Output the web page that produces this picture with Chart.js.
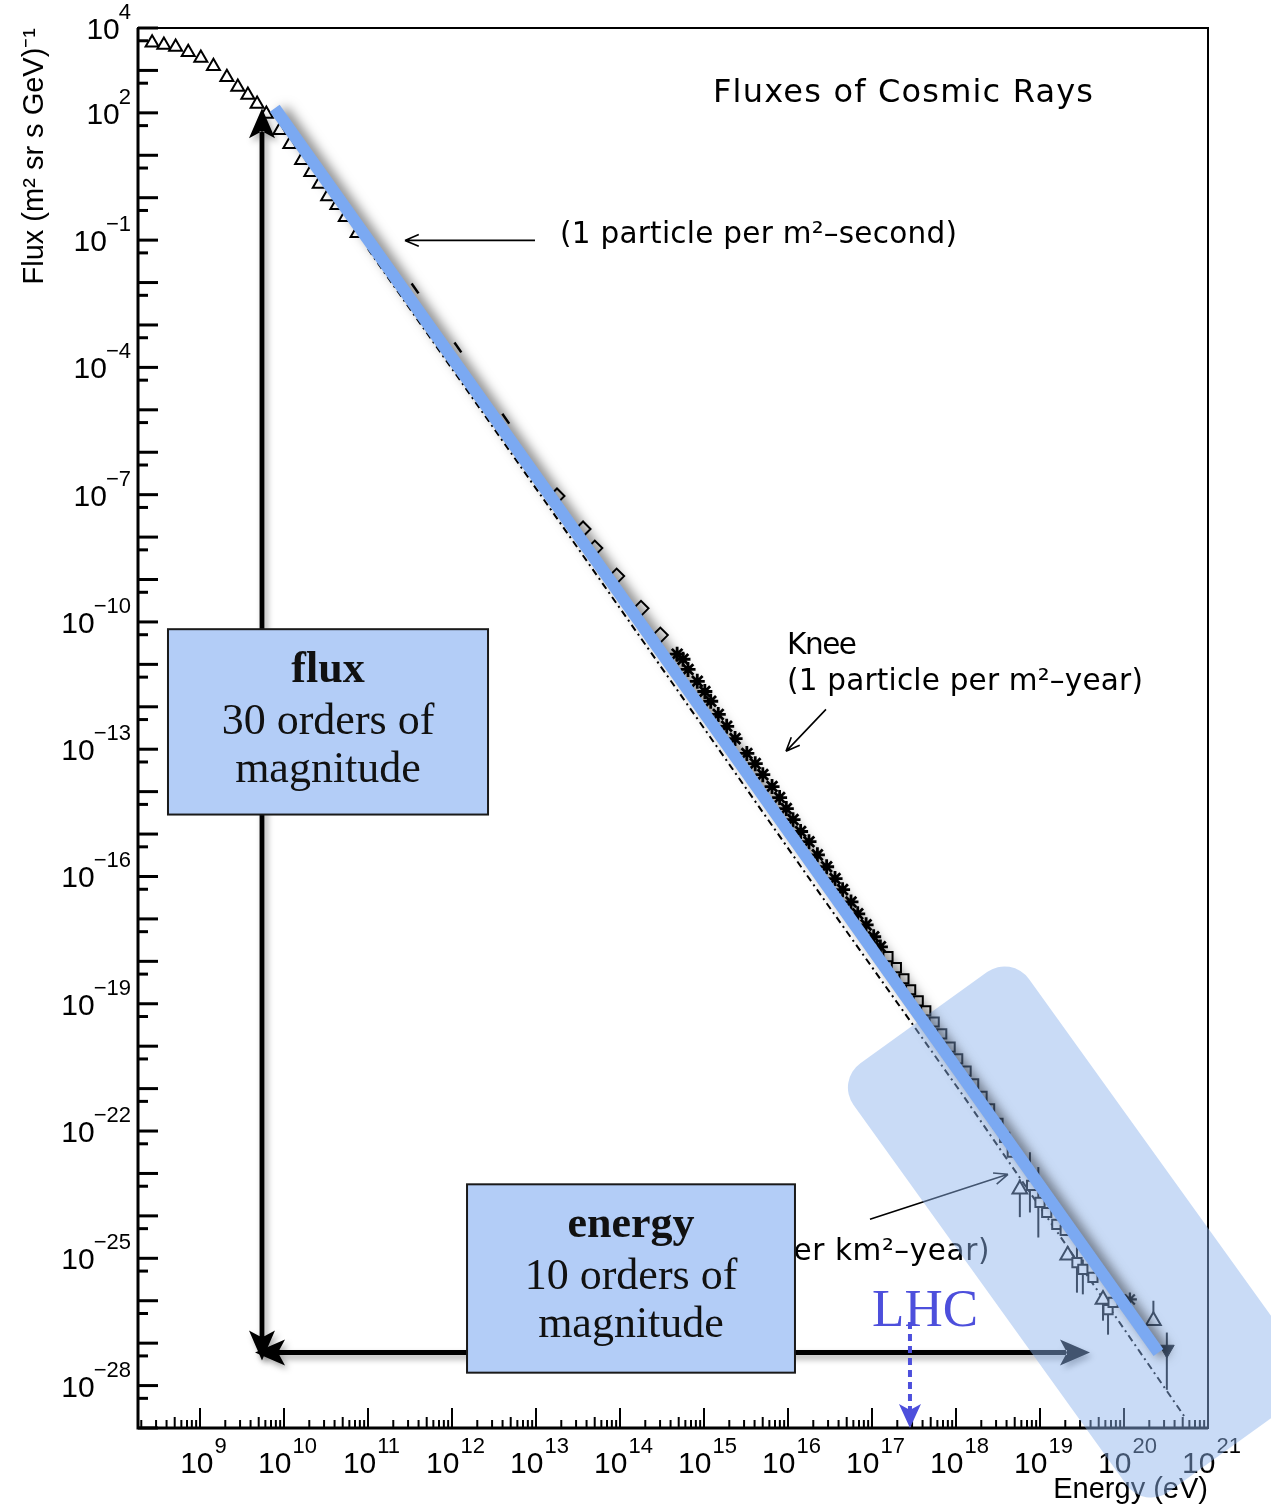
<!DOCTYPE html>
<html>
<head>
<meta charset="utf-8">
<script src="https://cdn.jsdelivr.net/npm/chart.js@4.4.1/dist/chart.umd.min.js"></script>
<style>
  html, body { margin: 0; padding: 0; background: #fff; }
</style>
</head>
<body>
<canvas id="fluxChart" width="1271" height="1508"></canvas>
<script>
// all values are log10: energy in eV, flux in (m^2 sr s GeV)^-1
var lowTriE = [8.43, 8.57, 8.71, 8.86, 9.01, 9.16, 9.32, 9.45, 9.57, 9.68, 9.79, 9.95, 10.07, 10.21, 10.32, 10.42, 10.52, 10.63, 10.73, 10.87];
var lowTriF = [3.65, 3.60, 3.55, 3.43, 3.29, 3.10, 2.84, 2.61, 2.42, 2.21, 1.97, 1.59, 1.26, 0.88, 0.60, 0.32, 0.03, -0.18, -0.46, -0.84];
var dashE = [11.56, 12.07, 12.64];
var dashF = [-2.14, -3.53, -5.21];
var diamondE = [13.25, 13.56, 13.70, 13.96, 14.25, 14.48];
var diamondF = [-7.03, -7.81, -8.26, -8.92, -9.68, -10.31];
var starE = [14.68, 14.75, 14.81, 14.92, 15.01, 15.08, 15.17, 15.27, 15.37, 15.51, 15.61, 15.70, 15.81, 15.90, 15.98, 16.06, 16.15, 16.25, 16.35, 16.46, 16.56, 16.65, 16.75, 16.83, 16.93, 17.02, 17.10];
var starF = [-10.76, -10.88, -11.12, -11.40, -11.64, -11.87, -12.18, -12.46, -12.75, -13.10, -13.34, -13.60, -13.88, -14.14, -14.40, -14.66, -14.94, -15.18, -15.49, -15.77, -16.05, -16.31, -16.60, -16.88, -17.14, -17.42, -17.66];
var squareE = [17.19, 17.29, 17.38, 17.46, 17.55, 17.64, 17.74, 17.83, 17.93, 18.02, 18.12, 18.21, 18.31, 18.40, 18.50, 18.58, 18.67, 18.90, 19.00, 19.08, 19.20, 19.30, 19.44, 19.51, 19.63, 19.81, 19.87];
var squareF = [-17.89, -18.15, -18.41, -18.67, -18.93, -19.17, -19.43, -19.71, -20.02, -20.30, -20.59, -20.89, -21.18, -21.48, -21.82, -22.15, -22.50, -23.28, -23.68, -23.92, -24.20, -24.34, -25.10, -25.26, -25.45, -26.21, -26.04];
var heTriE = [18.76, 19.33, 19.75, 20.35];
var heTriF = [-23.37, -24.93, -25.97, -26.47];
var heStarE = [19.95, 20.07];
var heStarF = [-25.97, -25.97];
var limitE = [20.51];
var limitF = [-27.15];
var errE = [18.76, 18.88, 18.98, 19.44, 19.51, 19.75, 19.81, 20.35, 20.51];
var errLo = [-24.03, -23.92, -24.51, -25.81, -25.85, -26.47, -26.80, -26.51, -28.10];
var errHi = [-23.14, -22.50, -22.85, -24.74, -25.03, -25.81, -26.04, -26.00, -26.75];
var fitE = [11.00, 13.13, 16.42, 18.08, 20.73];
var fitF = [-1.21, -7.22, -16.52, -21.15, -28.76];
var bandE = [9.89, 20.41];
var bandF = [2.11, -27.22];
var xTickExps = [9, 10, 11, 12, 13, 14, 15, 16, 17, 18, 19, 20, 21];
var yTickExps = [4, 2, -1, -4, -7, -10, -13, -16, -19, -22, -25, -28];

function pts(es, fs) {
  return es.map(function (e, i) { return { x: Math.pow(10, e), y: Math.pow(10, fs[i]) }; });
}

function P(chart, le, lf) {
  return {
    x: chart.scales.x.getPixelForValue(Math.pow(10, le)),
    y: chart.scales.y.getPixelForValue(Math.pow(10, lf))
  };
}

var SANS = '"Liberation Sans", Arial, sans-serif';
var NOTE = '"DejaVu Sans", sans-serif';
var SERIF = '"Liberation Serif", "Times New Roman", serif';

function supLabel(e) {
  return e < 0 ? '\u2212' + (-e) : String(e);
}

function drawFrame(chart) {
  var ctx = chart.ctx, a = chart.chartArea, xs = chart.scales.x, ys = chart.scales.y;
  ctx.save();
  ctx.strokeStyle = '#000';
  ctx.lineWidth = 2;
  ctx.strokeRect(a.left, a.top, a.right - a.left, a.bottom - a.top);
  ctx.lineWidth = 3;
  ctx.beginPath();
  ctx.moveTo(a.left, a.top); ctx.lineTo(a.left, a.bottom); ctx.lineTo(a.right, a.bottom);
  ctx.stroke();

  // x ticks, drawn inward
  ctx.lineWidth = 2;
  for (var d = 8; d <= 21; d++) {
    for (var m = 1; m < 10; m++) {
      var v = m * Math.pow(10, d);
      if (v < xs.min || v > xs.max * 1.001) continue;
      var px = xs.getPixelForValue(v);
      var len = m === 1 ? 20 : (m === 5 ? 11 : 8);
      ctx.beginPath(); ctx.moveTo(px, a.bottom); ctx.lineTo(px, a.bottom - len); ctx.stroke();
    }
  }
  // y ticks
  ctx.lineWidth = 3;
  for (var k = -29; k <= 4; k++) {
    var y1 = ys.getPixelForValue(Math.pow(10, k));
    ctx.beginPath(); ctx.moveTo(a.left, y1); ctx.lineTo(a.left + 20, y1); ctx.stroke();
    var y2 = ys.getPixelForValue(5 * Math.pow(10, k - 1));
    if (y2 > a.bottom) continue;
    ctx.beginPath(); ctx.moveTo(a.left, y2); ctx.lineTo(a.left + 10, y2); ctx.stroke();
  }

  // tick labels 10^n
  ctx.fillStyle = '#000';
  ctx.textBaseline = 'alphabetic';
  xTickExps.forEach(function (e) {
    var px = xs.getPixelForValue(Math.pow(10, e));
    var s = supLabel(e);
    ctx.font = '30px ' + SANS; var w10 = ctx.measureText('10').width;
    ctx.font = '22px ' + SANS; var ws = ctx.measureText(s).width;
    var x0 = px + 3 - (w10 + ws) / 2;
    ctx.textAlign = 'left';
    ctx.font = '30px ' + SANS; ctx.fillText('10', x0, a.bottom + 45);
    ctx.font = '22px ' + SANS; ctx.fillText(s, x0 + w10 + 1, a.bottom + 25);
  });
  yTickExps.forEach(function (e) {
    var py = ys.getPixelForValue(Math.pow(10, e));
    var s = supLabel(e);
    ctx.font = '22px ' + SANS; var ws = ctx.measureText(s).width;
    var xr = a.left - 7;
    ctx.textAlign = 'left'; ctx.fillText(s, xr - ws, py - 9);
    ctx.font = '30px ' + SANS; ctx.textAlign = 'right'; ctx.fillText('10', xr - ws + 1, py + 11);
  });
  ctx.restore();
}

function drawErrorBars(chart) {
  var ctx = chart.ctx;
  ctx.save();
  ctx.strokeStyle = '#000'; ctx.lineWidth = 2;
  errE.forEach(function (e, i) {
    var lo = P(chart, e, errLo[i]), hi = P(chart, e, errHi[i]);
    ctx.beginPath(); ctx.moveTo(lo.x, lo.y); ctx.lineTo(hi.x, hi.y); ctx.stroke();
  });
  ctx.restore();
}

// stretch letter spacing so that `part` (a piece of `text`) spans `width`
function fitText(ctx, text, x, y, width, size, family, align, part) {
  part = part || text;
  ctx.font = size + 'px ' + family;
  ctx.letterSpacing = '0px';
  var w = ctx.measureText(part).width;
  var ls = (width - w) / (part.length - 1);
  ctx.letterSpacing = ls.toFixed(2) + 'px';
  ctx.textAlign = align || 'left';
  ctx.fillText(text, x, y);
  ctx.letterSpacing = '0px';
}

function pointer(ctx, a, b) {
  var ang = Math.atan2(b.y - a.y, b.x - a.x);
  ctx.beginPath(); ctx.moveTo(a.x, a.y); ctx.lineTo(b.x, b.y);
  [0.4, -0.4].forEach(function (d) {
    ctx.moveTo(b.x, b.y);
    ctx.lineTo(b.x - 15 * Math.cos(ang + d), b.y - 15 * Math.sin(ang + d));
  });
  ctx.stroke();
}

function drawNotes(chart) {
  var ctx = chart.ctx;
  ctx.save();
  ctx.fillStyle = '#000'; ctx.strokeStyle = '#000'; ctx.lineWidth = 1.6;
  ctx.textBaseline = 'alphabetic';
  var p = P(chart, 15.107, 2.252);
  fitText(ctx, 'Fluxes of Cosmic Rays', p.x, p.y, 380, 32, NOTE);
  p = P(chart, 13.286, -1.078);
  fitText(ctx, '(1 particle per m\u00b2\u2013second)', p.x, p.y, 397, 29.5, NOTE);
  pointer(ctx, P(chart, 12.988, -1.007), P(chart, 11.44, -1.007));
  p = P(chart, 15.988, -10.761);
  fitText(ctx, 'Knee', p.x, p.y, 70, 29.5, NOTE);
  p = P(chart, 15.988, -11.611);
  fitText(ctx, '(1 particle per m\u00b2\u2013year)', p.x, p.y, 356, 29.5, NOTE);
  pointer(ctx, P(chart, 16.452, -12.06), P(chart, 15.976, -13.05));
  p = P(chart, 18.405, -25.05);
  fitText(ctx, '(1 particle per km\u00b2\u2013year)', p.x, p.y, 196, 29.5, NOTE, 'right', 'er km\u00b2\u2013year)');
  pointer(ctx, P(chart, 16.976, -24.08), P(chart, 18.619, -23.02));
  ctx.restore();
}

function blockArrow(ctx, a, b, headStart, headEnd) {
  var ang = Math.atan2(b.y - a.y, b.x - a.x), len = Math.hypot(b.x - a.x, b.y - a.y);
  var hl = 30, hw = 13, notch = 7, sw = 2.4;
  ctx.save();
  ctx.translate(a.x, a.y); ctx.rotate(ang);
  ctx.beginPath();
  var s0 = headStart ? hl - notch : 0, s1 = headEnd ? len - hl + notch : len;
  ctx.rect(s0, -sw, s1 - s0, 2 * sw);
  if (headStart) {
    ctx.moveTo(0, 0); ctx.lineTo(hl, -hw); ctx.lineTo(hl - notch, 0); ctx.lineTo(hl, hw); ctx.closePath();
  }
  if (headEnd) {
    ctx.moveTo(len, 0); ctx.lineTo(len - hl, -hw); ctx.lineTo(len - hl + notch, 0); ctx.lineTo(len - hl, hw); ctx.closePath();
  }
  ctx.fill();
  ctx.restore();
}

function drawBlackArrows(chart) {
  var ctx = chart.ctx;
  ctx.save();
  ctx.fillStyle = '#000';
  ctx.shadowColor = 'rgba(0,0,0,0.35)'; ctx.shadowBlur = 6; ctx.shadowOffsetX = 3; ctx.shadowOffsetY = 4;
  blockArrow(ctx, P(chart, 9.738, -27.41), P(chart, 9.738, 2.11), true, true);
  blockArrow(ctx, P(chart, 9.655, -27.22), P(chart, 19.595, -27.22), true, true);
  ctx.restore();
}

function roundRectPath(ctx, x, y, w, h, r) {
  ctx.beginPath();
  ctx.moveTo(x + r, y);
  ctx.arcTo(x + w, y, x + w, y + h, r);
  ctx.arcTo(x + w, y + h, x, y + h, r);
  ctx.arcTo(x, y + h, x, y, r);
  ctx.arcTo(x, y, x + w, y, r);
  ctx.closePath();
}

function drawBand(chart) {
  var ctx = chart.ctx, c = P(chart, 19.45, -24.38);
  ctx.save();
  ctx.translate(c.x, c.y); ctx.rotate(54.3 * Math.PI / 180);
  roundRectPath(ctx, -264, -108, 528, 216, 30);
  ctx.fillStyle = 'rgba(140,178,236,0.47)';
  ctx.fill();
  ctx.restore();
}

function textBox(chart, e0, e1, f0, f1, lines) {
  var ctx = chart.ctx, tl = P(chart, e0, f0), br = P(chart, e1, f1);
  ctx.save();
  ctx.fillStyle = '#b3cdf7'; ctx.strokeStyle = '#1a1a1a'; ctx.lineWidth = 2;
  ctx.fillRect(tl.x, tl.y, br.x - tl.x, br.y - tl.y);
  ctx.strokeRect(tl.x, tl.y, br.x - tl.x, br.y - tl.y);
  ctx.fillStyle = '#111'; ctx.textAlign = 'center'; ctx.textBaseline = 'alphabetic';
  var cx = (tl.x + br.x) / 2;
  ctx.font = 'bold 44px ' + SERIF; ctx.fillText(lines[0], cx, tl.y + 53);
  ctx.font = '44px ' + SERIF; ctx.fillText(lines[1], cx, tl.y + 105);
  ctx.fillText(lines[2], cx, tl.y + 153);
  ctx.restore();
}

function drawLHC(chart) {
  var ctx = chart.ctx, a = chart.chartArea;
  var t = P(chart, 17.631, -26.586);
  ctx.save();
  ctx.fillStyle = '#4d4fdc'; ctx.strokeStyle = '#4d4fdc';
  ctx.font = '53px ' + SERIF; ctx.textAlign = 'center'; ctx.textBaseline = 'alphabetic';
  ctx.fillText('LHC', t.x, t.y);
  var s = P(chart, 17.452, -26.5);
  ctx.lineWidth = 4; ctx.setLineDash([7, 5]);
  ctx.beginPath(); ctx.moveTo(s.x, s.y); ctx.lineTo(s.x, a.bottom - 16); ctx.stroke();
  ctx.setLineDash([]);
  ctx.beginPath();
  ctx.moveTo(s.x, a.bottom); ctx.lineTo(s.x - 11, a.bottom - 24); ctx.lineTo(s.x, a.bottom - 18); ctx.lineTo(s.x + 11, a.bottom - 24);
  ctx.closePath(); ctx.fill();
  ctx.restore();
}

var decor = {
  id: 'decor',
  beforeDatasetsDraw: function (chart) {
    drawFrame(chart);
    drawErrorBars(chart);
  },
  beforeDatasetDraw: function (chart, args) {
    if (args.index !== 0) return;
    drawNotes(chart);
    drawBlackArrows(chart);
    drawBand(chart);
    var ctx = chart.ctx;
    ctx.save();
    ctx.shadowColor = 'rgba(0,0,0,0.5)'; ctx.shadowBlur = 12; ctx.shadowOffsetX = 7; ctx.shadowOffsetY = 2;
  },
  afterDatasetDraw: function (chart, args) {
    if (args.index === 0) chart.ctx.restore();
  },
  afterDatasetsDraw: function (chart) {
    textBox(chart, 8.619, 12.429, -10.171, -14.54, ['flux', '30 orders of', 'magnitude']);
    textBox(chart, 12.179, 16.083, -23.256, -27.696, ['energy', '10 orders of', 'magnitude']);
    drawLHC(chart);
  }
};

var open = { pointBackgroundColor: '#fff', pointBorderColor: '#000', pointBorderWidth: 2 };

var ctx = document.getElementById('fluxChart').getContext('2d');
var fluxChart = new Chart(ctx, {
  type: 'scatter',
  data: {
    datasets: [
      { label: 'power law', data: pts(bandE, bandF), showLine: true, borderColor: '#7ba9f2', borderWidth: 12, borderCapStyle: 'butt', pointRadius: 0 },
      Object.assign({ label: 'low energy', data: pts(lowTriE, lowTriF), pointStyle: 'triangle', pointRadius: 7.5 }, open),
      { label: 'dash', data: pts(dashE, dashF), pointStyle: 'line', pointRotation: 55, pointRadius: 6, pointBorderColor: '#000', pointBorderWidth: 2.5 },
      Object.assign({ label: 'diamond', data: pts(diamondE, diamondF), pointStyle: 'rectRot', pointRadius: 7.5 }, open),
      { label: 'knee', data: pts(starE, starF), pointStyle: 'star', pointRadius: 7.5, pointBorderColor: '#000', pointBorderWidth: 2.8 },
      Object.assign({ label: 'ankle', data: pts(squareE, squareF), pointStyle: 'rect', pointRadius: 6.5 }, open),
      Object.assign({ label: 'UHE', data: pts(heTriE, heTriF), pointStyle: 'triangle', pointRadius: 8.5 }, open),
      { label: 'UHE star', data: pts(heStarE, heStarF), pointStyle: 'star', pointRadius: 7, pointBorderColor: '#000', pointBorderWidth: 2.2 },
      { label: 'limit', data: pts(limitE, limitF), pointStyle: 'triangle', pointRotation: 180, pointRadius: 8.5, pointBackgroundColor: '#000', pointBorderColor: '#000' },
      { label: 'fit', data: pts(fitE, fitF), showLine: true, borderColor: '#000', borderWidth: 2, borderDash: [7, 4, 2, 4], pointRadius: 0 }
    ]
  },
  options: {
    responsive: false,
    animation: false,
    layout: { padding: { top: 28, right: 63, left: 0, bottom: 0 } },
    plugins: { legend: { display: false }, tooltip: { enabled: false } },
    scales: {
      x: {
        type: 'logarithmic',
        min: Math.pow(10, 8.262),
        max: 1e21,
        grid: { display: false },
        border: { display: false },
        ticks: { display: false },
        title: { display: true, text: 'Energy (eV)', align: 'end', color: '#000', font: { family: SANS, size: 29 }, padding: { top: 0, bottom: 1 } },
        afterFit: function (s) { s.height = 80; }
      },
      y: {
        type: 'logarithmic',
        min: 1e-29,
        max: 1e4,
        grid: { display: false },
        border: { display: false },
        ticks: { display: false },
        title: { display: true, text: 'Flux (m\u00b2 sr s GeV)\u207b\u00b9', align: 'end', color: '#000', font: { family: SANS, size: 29 }, padding: { top: 18, bottom: 0 } },
        afterFit: function (s) { s.width = 138; }
      }
    }
  },
  plugins: [decor]
});
</script>
</body>
</html>
